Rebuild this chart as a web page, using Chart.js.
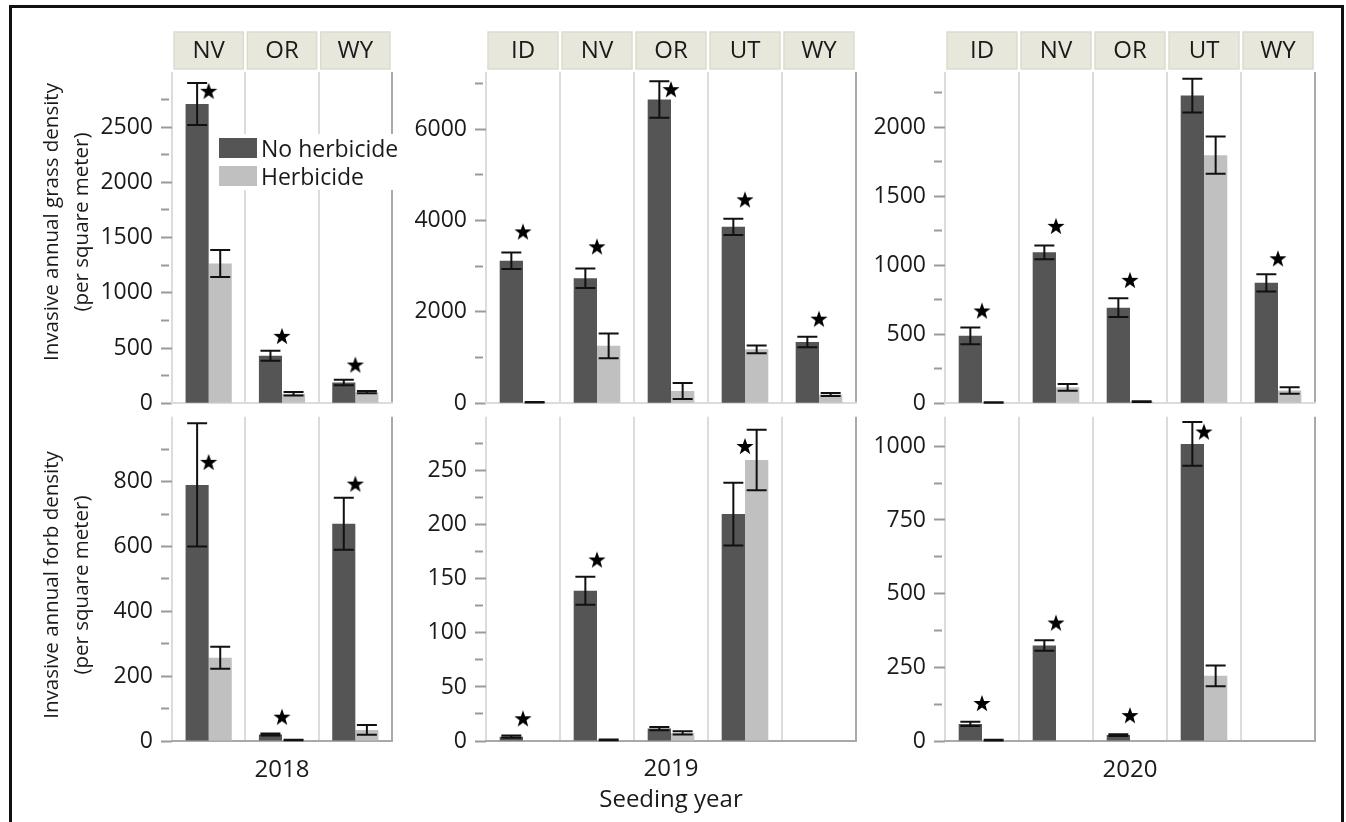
<!DOCTYPE html>
<html>
<head>
<meta charset="utf-8">
<script src="https://cdn.jsdelivr.net/npm/chart.js@4.4.1/dist/chart.umd.min.js"></script>
<style>
html, body { margin: 0; padding: 0; background: #fff; overflow: hidden; }
body { width: 1346px; height: 822px; position: relative; font-family: 'Open Sans', sans-serif; color: #1a1a1a; }
#frame { position: absolute; left: 9px; top: 5px; width: 1329px; height: 900px; border: 3px solid #111; }
canvas { position: absolute; }
.ytitle { position: absolute; width: 440px; font-size: 20.5px; line-height: 30px; text-align: center;
  transform: translate(-50%, -50%) rotate(-90deg); white-space: nowrap; }
#legend { position: absolute; left: 219px; top: 134px; background: #fff; font-size: 23px; padding-right: 2px; }
#legend div { display: flex; align-items: center; height: 28px; }
#legend span.sw { display: inline-block; width: 38px; height: 20px; margin-right: 4px; }
</style>
</head>
<body>
<div id="frame"></div>
<canvas id="g18"></canvas>
<canvas id="g19"></canvas>
<canvas id="g20"></canvas>
<canvas id="f18"></canvas>
<canvas id="f19"></canvas>
<canvas id="f20"></canvas>
<div class="ytitle" style="left:65px; top:222px;">Invasive annual grass density<br>(per square meter)</div>
<div class="ytitle" style="left:65px; top:585px;">Invasive annual forb density<br>(per square meter)</div>
<div id="legend">
  <div><span class="sw" style="background:#555555"></span>No herbicide</div>
  <div><span class="sw" style="background:#c0c0c0"></span>Herbicide</div>
</div>
<script>
const sites2018 = ['NV', 'OR', 'WY'];
const sites2019 = ['ID', 'NV', 'OR', 'UT', 'WY'];
const sites2020 = ['ID', 'NV', 'OR', 'UT', 'WY'];

// invasive annual grass density (mean, SE, star height)
const grass18None = [2710, 430, 188];
const grass18NoneSE = [190, 45, 25];
const grass18Herb = [1265, 85, 100];
const grass18HerbSE = [122, 16, 10];
const grass18Star = [2830, 610, 350];

const grass19None = [3120, 2735, 6650, 3860, 1340];
const grass19NoneSE = [180, 215, 400, 180, 115];
const grass19Herb = [20, 1255, 265, 1180, 190];
const grass19HerbSE = [5, 270, 175, 85, 35];
const grass19Star = [3760, 3434, 6874, 4463, 1851];

const grass20None = [488, 1093, 692, 2229, 872];
const grass20NoneSE = [60, 50, 68, 122, 62];
const grass20Herb = [5, 115, 12, 1797, 92];
const grass20HerbSE = [2, 24, 3, 135, 23];
const grass20Star = [672, 1285, 894, null, 1050];

// invasive annual forb density
const forb18None = [790, 20, 670];
const forb18NoneSE = [190, 3, 80];
const forb18Herb = [257, 3, 34];
const forb18HerbSE = [34, 1, 15];
const forb18Star = [861, 75, 794];

const forb19None = [4, 139, 11.5, 210, 0];
const forb19NoneSE = [1, 13, 1.5, 29, 0];
const forb19Herb = [0.5, 1, 7.5, 260, 0];
const forb19HerbSE = [0, 0.3, 1.5, 28, 0];
const forb19Star = [21, 168, null, 273, null];

const forb20None = [58, 324, 20, 1008, 0];
const forb20NoneSE = [7, 18, 3, 74, 0];
const forb20Herb = [3, 2, 2, 221, 0];
const forb20HerbSE = [1, 0, 0, 35, 0];
const forb20Star = [129, 402, 88, 1050, null];

// y axis ticks (all) and labelled ticks
const grass18Ticks = [0, 250, 500, 750, 1000, 1250, 1500, 1750, 2000, 2250, 2500, 2750];
const grass18Labels = [0, 500, 1000, 1500, 2000, 2500];
const grass19Ticks = [0, 1000, 2000, 3000, 4000, 5000, 6000, 7000];
const grass19Labels = [0, 2000, 4000, 6000];
const grass20Ticks = [0, 250, 500, 750, 1000, 1250, 1500, 1750, 2000, 2250];
const grass20Labels = [0, 500, 1000, 1500, 2000];
const forb18Ticks = [0, 100, 200, 300, 400, 500, 600, 700, 800, 900];
const forb18Labels = [0, 200, 400, 600, 800];
const forb19Ticks = [0, 25, 50, 75, 100, 125, 150, 175, 200, 225, 250, 275];
const forb19Labels = [0, 50, 100, 150, 200, 250];
const forb20Ticks = [0, 125, 250, 375, 500, 625, 750, 875, 1000];
const forb20Labels = [0, 250, 500, 750, 1000];

const DARK = '#555555';
const LIGHT = '#c0c0c0';
const CAP = 10;

Chart.defaults.font.family = "'Open Sans', sans-serif";
Chart.defaults.color = '#1a1a1a';

function makeStar(r) {
    const c = document.createElement('canvas');
    c.width = c.height = Math.ceil(r * 2 + 2);
    const g = c.getContext('2d');
    g.translate(c.width / 2, c.height / 2 + r * 0.1);
    g.beginPath();
    for (let k = 0; k < 10; k++) {
        const rr = k % 2 ? r * 0.4 : r;
        const a = -Math.PI / 2 + k * Math.PI / 5;
        g.lineTo(rr * Math.cos(a), rr * Math.sin(a));
    }
    g.closePath();
    g.fillStyle = '#000';
    g.fill();
    return c;
}
const STAR = makeStar(9);

// error bars and facet header strips
const panelDecor = {
    id: 'panelDecor',
    afterDatasetsDraw(chart) {
        const { ctx } = chart;
        const ys = chart.scales.y;
        ctx.save();
        ctx.strokeStyle = '#111';
        ctx.lineWidth = 2;
        chart.data.datasets.forEach((ds, di) => {
            if (!ds.se) return;
            chart.getDatasetMeta(di).data.forEach((bar, i) => {
                const v = ds.data[i], e = ds.se[i];
                if (!e) return;
                const yt = ys.getPixelForValue(v + e);
                const yb = ys.getPixelForValue(Math.max(0, v - e));
                ctx.beginPath();
                ctx.moveTo(bar.x, yt); ctx.lineTo(bar.x, yb);
                ctx.moveTo(bar.x - CAP, yt); ctx.lineTo(bar.x + CAP, yt);
                ctx.moveTo(bar.x - CAP, yb); ctx.lineTo(bar.x + CAP, yb);
                ctx.stroke();
            });
        });
        ctx.restore();
    },
    afterDraw(chart, args, opts) {
        if (!opts.header) return;
        const { ctx, chartArea } = chart;
        const xs = chart.scales.x;
        const n = chart.data.labels.length;
        const w = xs.width / n;
        ctx.save();
        chart.data.labels.forEach((lab, i) => {
            const cx = xs.getPixelForValue(i);
            const left = cx - w / 2 + 2, top = chartArea.top - 40;
            ctx.fillStyle = '#e8e7dc';
            ctx.fillRect(left, top, w - 4, 37);
            ctx.strokeStyle = '#dcdbcf';
            ctx.lineWidth = 1.5;
            ctx.strokeRect(left, top, w - 4, 37);
            ctx.fillStyle = '#1a1a1a';
            ctx.font = "24px 'Open Sans', sans-serif";
            ctx.textAlign = 'center';
            ctx.textBaseline = 'middle';
            ctx.fillText(lab, cx, top + 19);
        });
        ctx.restore();
    }
};

function panel(id, box, cfg) {
    const cv = document.getElementById(id);
    cv.width = box.w;
    cv.height = box.h;
    cv.style.left = box.x + 'px';
    cv.style.top = box.y + 'px';
    const major = new Set(cfg.tickLabels);
    const bottomRow = !cfg.header;
    return new Chart(cv, {
        type: 'bar',
        data: {
            labels: cfg.sites,
            datasets: [
                { label: 'No herbicide', data: cfg.none, se: cfg.noneSE, backgroundColor: DARK,
                  borderWidth: 0, categoryPercentage: 0.63, barPercentage: 1, order: 1 },
                { label: 'Herbicide', data: cfg.herb, se: cfg.herbSE, backgroundColor: LIGHT,
                  borderWidth: 0, categoryPercentage: 0.63, barPercentage: 1, order: 1 },
                { type: 'line', label: 'signif', data: cfg.star, showLine: false,
                  pointStyle: STAR, pointRadius: 9, order: 0 }
            ]
        },
        options: {
            responsive: false,
            animation: false,
            events: [],
            layout: { padding: cfg.header
                ? { top: 42, right: 4, bottom: 20, left: 0 }
                : { top: 12, right: 4, bottom: 0, left: 0 } },
            plugins: {
                legend: { display: false },
                tooltip: { enabled: false },
                panelDecor: { header: cfg.header }
            },
            scales: {
                x: {
                    ticks: { display: false },
                    grid: {
                        offset: true,
                        drawTicks: false,
                        lineWidth: 2,
                        color: c => (c.type === 'scale' ? '#a9a9a9' : '#dcdcdc')
                    },
                    border: { display: true, width: 2, color: bottomRow ? '#a9a9a9' : '#dcdcdc' },
                    title: {
                        display: !!cfg.xTitle,
                        text: cfg.xTitle,
                        font: { size: 24, lineHeight: 1.3 },
                        padding: { top: 0, bottom: cfg.xTitlePad || 0 }
                    },
                    afterFit: s => { s.height = bottomRow ? 80 : 0; }
                },
                y: {
                    min: 0,
                    max: cfg.yMax,
                    afterBuildTicks: s => { s.ticks = cfg.ticks.map(v => ({ value: v })); },
                    afterFit: s => { s.width = box.yW; },
                    ticks: {
                        autoSkip: false,
                        padding: 8,
                        font: { size: 23 },
                        color: '#1a1a1a',
                        callback: v => (major.has(v) ? String(v) : '')
                    },
                    grid: {
                        drawOnChartArea: false,
                        tickLength: 11,
                        tickWidth: 2,
                        tickColor: '#9b9b9b',
                        tickBorderDash: c => (c.tick && !major.has(c.tick.value) ? [8, 40] : [])
                    },
                    border: { display: false }
                }
            }
        },
        plugins: [panelDecor]
    });
}

const col1 = { x: 12, w: 390, yW: 160 };
const col2 = { x: 404, w: 462, yW: 82 };
const col3 = { x: 866, w: 459, yW: 79 };
const row1 = { y: 30, h: 395 };
const row2 = { y: 395, h: 426 };

panel('g18', { ...col1, ...row1 }, { header: true, sites: sites2018, none: grass18None, noneSE: grass18NoneSE,
    herb: grass18Herb, herbSE: grass18HerbSE, star: grass18Star, yMax: 3000, ticks: grass18Ticks, tickLabels: grass18Labels });
panel('g19', { ...col2, ...row1 }, { header: true, sites: sites2019, none: grass19None, noneSE: grass19NoneSE,
    herb: grass19Herb, herbSE: grass19HerbSE, star: grass19Star, yMax: 7250, ticks: grass19Ticks, tickLabels: grass19Labels });
panel('g20', { ...col3, ...row1 }, { header: true, sites: sites2020, none: grass20None, noneSE: grass20NoneSE,
    herb: grass20Herb, herbSE: grass20HerbSE, star: grass20Star, yMax: 2400, ticks: grass20Ticks, tickLabels: grass20Labels });

panel('f18', { ...col1, ...row2 }, { header: false, sites: sites2018, none: forb18None, noneSE: forb18NoneSE,
    herb: forb18Herb, herbSE: forb18HerbSE, star: forb18Star, yMax: 1000, ticks: forb18Ticks, tickLabels: forb18Labels,
    xTitle: '2018', xTitlePad: 35 });
panel('f19', { ...col2, ...row2 }, { header: false, sites: sites2019, none: forb19None, noneSE: forb19NoneSE,
    herb: forb19Herb, herbSE: forb19HerbSE, star: forb19Star, yMax: 300, ticks: forb19Ticks, tickLabels: forb19Labels,
    xTitle: ['2019', 'Seeding year'], xTitlePad: 5 });
panel('f20', { ...col3, ...row2 }, { header: false, sites: sites2020, none: forb20None, noneSE: forb20NoneSE,
    herb: forb20Herb, herbSE: forb20HerbSE, star: forb20Star, yMax: 1100, ticks: forb20Ticks, tickLabels: forb20Labels,
    xTitle: '2020', xTitlePad: 35 });
</script>
</body>
</html>
